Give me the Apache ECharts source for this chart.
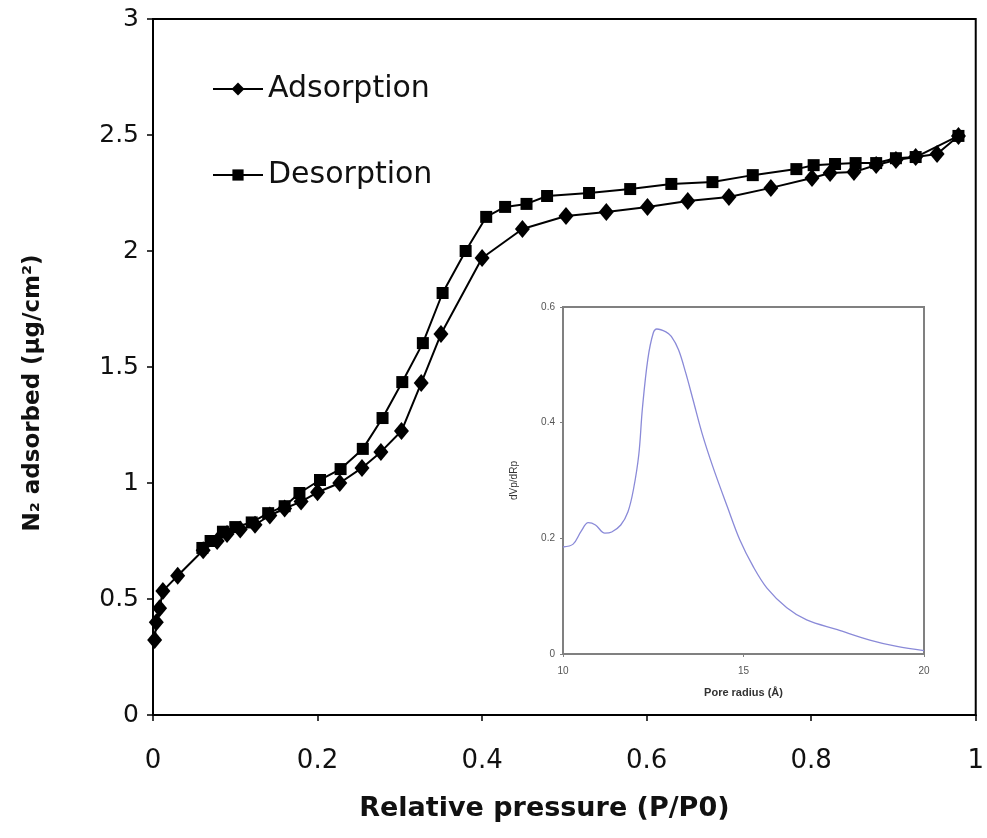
<!DOCTYPE html>
<html>
<head>
<meta charset="utf-8">
<script src="https://cdn.jsdelivr.net/npm/echarts@6/dist/echarts.min.js"></script>
<style>
  html, body { margin: 0; padding: 0; background: #ffffff; }
  #chart { width: 987px; height: 838px; }
</style>
</head>
<body>
<div id="chart"></div>
<script>
// N2 adsorption / desorption isotherm
const pressureTicks = [0, 0.2, 0.4, 0.6, 0.8, 1];
const adsorbedTicks = [0, 0.5, 1, 1.5, 2, 2.5, 3];

const adsorptionP = [0.002, 0.004, 0.008, 0.012, 0.03, 0.061, 0.078, 0.09, 0.106, 0.124, 0.142, 0.16, 0.18, 0.2,
  0.227, 0.254, 0.277, 0.302, 0.326, 0.35, 0.40, 0.449, 0.502, 0.551, 0.601, 0.65, 0.70, 0.751, 0.801,
  0.823, 0.852, 0.879, 0.903, 0.927, 0.953, 0.979];
const adsorptionV = [0.323, 0.40, 0.46, 0.535, 0.60, 0.71, 0.75, 0.78, 0.80, 0.82, 0.86, 0.89, 0.92, 0.96,
  1.0, 1.065, 1.134, 1.224, 1.431, 1.642, 1.97, 2.095, 2.151, 2.168, 2.19, 2.216, 2.233, 2.272, 2.315,
  2.336, 2.34, 2.371, 2.392, 2.405, 2.418, 2.496];

const desorptionP = [0.06, 0.07, 0.085, 0.10, 0.12, 0.14, 0.16, 0.178, 0.203, 0.228, 0.255, 0.279, 0.303,
  0.328, 0.352, 0.38, 0.405, 0.428, 0.454, 0.479, 0.53, 0.58, 0.63, 0.68, 0.729, 0.782, 0.803, 0.829,
  0.854, 0.879, 0.903, 0.927, 0.979];
const desorptionV = [0.72, 0.75, 0.79, 0.81, 0.83, 0.87, 0.90, 0.957, 1.013, 1.06, 1.147, 1.28, 1.435,
  1.603, 1.819, 2.0, 2.147, 2.19, 2.203, 2.237, 2.25, 2.267, 2.289, 2.297, 2.327, 2.353, 2.37, 2.375,
  2.379, 2.379, 2.40, 2.405, 2.496];

// Pore size distribution (inset)
const poreRadiusTicks = [10, 15, 20];
const poreDistTicks = [0, 0.2, 0.4, 0.6];
const poreRadius = [10, 10.28, 10.5, 10.7, 10.9, 11.16, 11.35, 11.6, 11.8, 11.95, 12.1, 12.2, 12.35, 12.5,
  12.6, 12.85, 13.0, 13.2, 13.4, 13.6, 13.85, 14.15, 14.55, 14.9, 15.27, 15.65, 16.2, 16.75, 17.6, 18.5,
  19.25, 20];
const poreDist = [0.185, 0.19, 0.212, 0.227, 0.223, 0.209, 0.211, 0.223, 0.246, 0.284, 0.345, 0.425, 0.51,
  0.555, 0.562, 0.557, 0.549, 0.526, 0.486, 0.44, 0.382, 0.324, 0.255, 0.197, 0.151, 0.114, 0.08, 0.059,
  0.042, 0.024, 0.013, 0.006];

const zip = (xs, ys) => xs.map((x, i) => [x, ys[i]]);
const fmt = v => String(Number(v.toFixed(2)));
const step = arr => arr[1] - arr[0];

const mainFont = 'DejaVu Sans';
const insetFont = 'Liberation Sans';

const chart = echarts.init(document.getElementById('chart'), null, { renderer: 'canvas' });

chart.setOption({
  backgroundColor: '#ffffff',
  animation: false,
  legend: [
    {
      left: 207, top: 69, orient: 'vertical',
      data: ['Adsorption'],
      itemWidth: 50, itemHeight: 16,
      selectedMode: false,
      textStyle: { fontFamily: mainFont, fontSize: 30, color: '#111' }
    },
    {
      left: 207, top: 155, orient: 'vertical',
      data: ['Desorption'],
      itemWidth: 50, itemHeight: 14,
      selectedMode: false,
      textStyle: { fontFamily: mainFont, fontSize: 30, color: '#111' }
    }
  ],
  grid: [
    {
      left: 153, top: 19, width: 824, height: 696,
      show: true, borderColor: '#000', borderWidth: 2, backgroundColor: 'transparent'
    },
    {
      left: 563, top: 307, width: 361, height: 347,
      show: true, borderColor: '#808080', borderWidth: 2, backgroundColor: '#ffffff'
    }
  ],
  xAxis: [
    {
      gridIndex: 0, type: 'value',
      min: pressureTicks[0], max: pressureTicks[pressureTicks.length - 1], interval: step(pressureTicks),
      name: 'Relative pressure (P/P0)', nameLocation: 'middle', nameGap: 80,
      nameTextStyle: { fontFamily: mainFont, fontSize: 27, fontWeight: 'bold', color: '#111', padding: [0, 40, 0, 0] },
      axisLine: { lineStyle: { color: '#000', width: 2 } },
      axisTick: { inside: false, length: 6, lineStyle: { color: '#000', width: 1.5 } },
      axisLabel: { fontFamily: mainFont, fontSize: 26, color: '#111', margin: 33, formatter: fmt },
      splitLine: { show: false }
    },
    {
      gridIndex: 1, type: 'value',
      min: poreRadiusTicks[0], max: poreRadiusTicks[poreRadiusTicks.length - 1], interval: step(poreRadiusTicks),
      name: 'Pore radius (Å)', nameLocation: 'middle', nameGap: 33,
      nameTextStyle: { fontFamily: insetFont, fontSize: 11, fontWeight: 'bold', color: '#333' },
      axisLine: { lineStyle: { color: '#808080', width: 2 } },
      axisTick: { inside: false, length: 3, lineStyle: { color: '#808080' } },
      axisLabel: { fontFamily: insetFont, fontSize: 10, color: '#555', margin: 12 },
      splitLine: { show: false }
    }
  ],
  yAxis: [
    {
      gridIndex: 0, type: 'value',
      min: adsorbedTicks[0], max: adsorbedTicks[adsorbedTicks.length - 1], interval: step(adsorbedTicks),
      name: 'N₂ adsorbed (µg/cm²)', nameLocation: 'middle', nameGap: 108,
      nameTextStyle: { fontFamily: mainFont, fontSize: 23, fontWeight: 'bold', color: '#111', padding: [0, 52, 0, 0] },
      axisLine: { lineStyle: { color: '#000', width: 2 } },
      axisTick: { inside: false, length: 6, lineStyle: { color: '#000', width: 1.5 } },
      axisLabel: { fontFamily: mainFont, fontSize: 25, color: '#111', margin: 14, formatter: fmt },
      splitLine: { show: false }
    },
    {
      gridIndex: 1, type: 'value',
      min: poreDistTicks[0], max: poreDistTicks[poreDistTicks.length - 1], interval: step(poreDistTicks),
      name: 'dVp/dRp', nameLocation: 'middle', nameGap: 44,
      nameTextStyle: { fontFamily: insetFont, fontSize: 10, color: '#333' },
      axisLine: { lineStyle: { color: '#808080', width: 2 } },
      axisTick: { inside: false, length: 3, lineStyle: { color: '#808080' } },
      axisLabel: { fontFamily: insetFont, fontSize: 10, color: '#555', margin: 8, formatter: fmt },
      splitLine: { show: false }
    }
  ],
  series: [
    {
      name: 'Adsorption', type: 'line', xAxisIndex: 0, yAxisIndex: 0,
      data: zip(adsorptionP, adsorptionV),
      symbol: 'diamond', symbolSize: [15, 18],
      lineStyle: { color: '#000', width: 2 },
      itemStyle: { color: '#000' },
      z: 3
    },
    {
      name: 'Desorption', type: 'line', xAxisIndex: 0, yAxisIndex: 0,
      data: zip(desorptionP, desorptionV),
      symbol: 'rect', symbolSize: 12,
      lineStyle: { color: '#000', width: 2 },
      itemStyle: { color: '#000' },
      z: 3
    },
    {
      name: 'Pore size distribution', type: 'line', xAxisIndex: 1, yAxisIndex: 1,
      data: zip(poreRadius, poreDist),
      smooth: 0.35, showSymbol: false,
      lineStyle: { color: '#8a8ad8', width: 1.3 },
      z: 4
    }
  ]
});
</script>
</body>
</html>
